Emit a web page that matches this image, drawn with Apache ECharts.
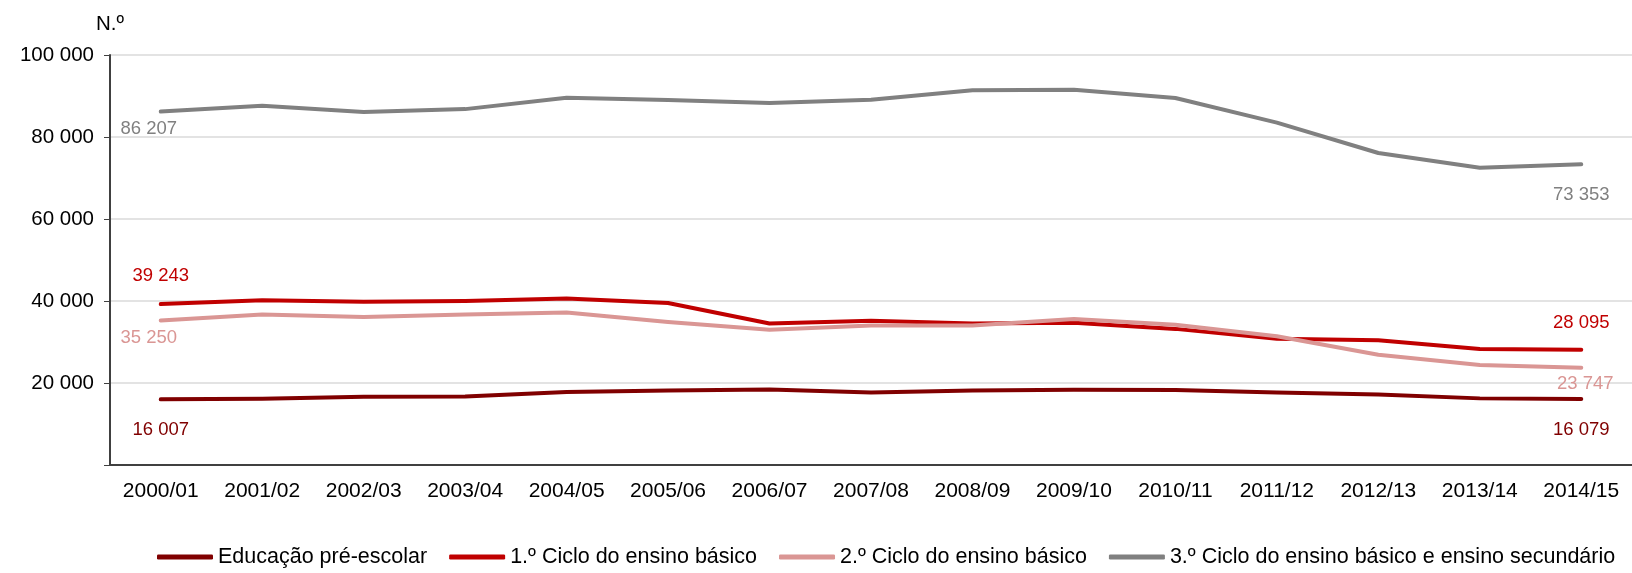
<!DOCTYPE html>
<html>
<head>
<meta charset="utf-8">
<script src="https://cdn.jsdelivr.net/npm/echarts@6/dist/echarts.min.js"></script>
<style>
  html, body { margin: 0; padding: 0; background: #fff; }
  #chart { width: 1632px; height: 573px; }
</style>
</head>
<body>
<div id="chart"></div>
<script>
// anos lectivos
var anos = ['2000/01', '2001/02', '2002/03', '2003/04', '2004/05', '2005/06', '2006/07', '2007/08',
  '2008/09', '2009/10', '2010/11', '2011/12', '2012/13', '2013/14', '2014/15'];

// valores (N.º)
var preEscolar = [16007, 16180, 16670, 16700, 17800, 18200, 18400, 17700, 18200, 18350, 18300, 17700, 17200, 16250, 16079];
var ciclo1 = [39243, 40200, 39800, 40000, 40600, 39500, 34500, 35200, 34500, 34700, 33200, 30800, 30400, 28300, 28095];
var ciclo2 = [35250, 36700, 36100, 36700, 37200, 34900, 33000, 34000, 34000, 35600, 34200, 31400, 26900, 24400, 23747];
var ciclo3 = [86207, 87600, 86100, 86800, 89600, 89000, 88300, 89100, 91400, 91500, 89500, 83500, 76100, 72500, 73353];

var yTicks = [0, 20000, 40000, 60000, 80000, 100000];

function fmt(v) {
  return String(v).replace(/\B(?=(\d{3})+(?!\d))/g, ' ');
}

// só o primeiro e o último ponto têm rótulo
function comRotulos(valores, cor, offIni, offFim) {
  return valores.map(function (v, i) {
    if (i === 0 || i === valores.length - 1) {
      return {
        value: v,
        label: {
          show: true,
          position: 'inside',
          offset: i === 0 ? offIni : offFim,
          color: cor,
          fontSize: 18.5,
          fontFamily: 'Liberation Sans',
          formatter: function (p) { return fmt(p.value); }
        }
      };
    }
    return v;
  });
}

function serie(nome, valores, cor, offIni, offFim) {
  return {
    name: nome,
    type: 'line',
    symbol: 'circle',
    symbolSize: 0.1,
    showSymbol: true,
    lineStyle: { color: cor, width: 4, cap: 'round', join: 'round' },
    itemStyle: { color: cor },
    emphasis: { disabled: true },
    data: comRotulos(valores, cor, offIni, offFim)
  };
}

var myChart = echarts.init(document.getElementById('chart'));
myChart.setOption({
  animation: false,
  textStyle: { fontFamily: 'Liberation Sans' },
  grid: { left: 110, top: 55, bottom: 108, width: 1528 },
  legend: {
    bottom: 0,
    left: 152,
    width: 1600,
    icon: 'roundRect',
    itemWidth: 56,
    itemHeight: 5,
    itemGap: 22,
    textStyle: { fontSize: 21.5, color: '#000', fontFamily: 'Liberation Sans' },
    data: ['Educação pré-escolar', '1.º Ciclo do ensino básico', '2.º Ciclo do ensino básico',
      '3.º Ciclo do ensino básico e ensino secundário']
  },
  xAxis: {
    type: 'category',
    data: anos,
    axisLine: { lineStyle: { color: '#404040', width: 2 } },
    axisTick: { length: 6, lineStyle: { color: '#404040', width: 1 } },
    axisLabel: { color: '#000', fontSize: 21, margin: 16 }
  },
  yAxis: {
    type: 'value',
    min: yTicks[0],
    max: yTicks[yTicks.length - 1],
    interval: 20000,
    name: 'N.º',
    nameLocation: 'end',
    nameGap: 20,
    nameTextStyle: { color: '#000', fontSize: 20.5, align: 'center' },
    axisLine: { show: true, lineStyle: { color: '#404040', width: 2 } },
    axisTick: { show: true, length: 6, lineStyle: { color: '#404040', width: 1 } },
    axisLabel: {
      color: '#000', fontSize: 20.5, margin: 16,
      formatter: function (v) { return v === 0 ? '' : fmt(v); }
    },
    splitLine: { lineStyle: { color: '#e3e3e3', width: 2 } }
  },
  series: [
    serie('Educação pré-escolar', preEscolar, '#800000', [0, 31], [0, 31]),
    serie('1.º Ciclo do ensino básico', ciclo1, '#C00000', [0, -28], [0, -27]),
    serie('2.º Ciclo do ensino básico', ciclo2, '#DA9694', [-12, 17], [4, 16]),
    serie('3.º Ciclo do ensino básico e ensino secundário', ciclo3, '#808080', [-12, 17], [0, 31])
  ]
});
</script>
</body>
</html>
